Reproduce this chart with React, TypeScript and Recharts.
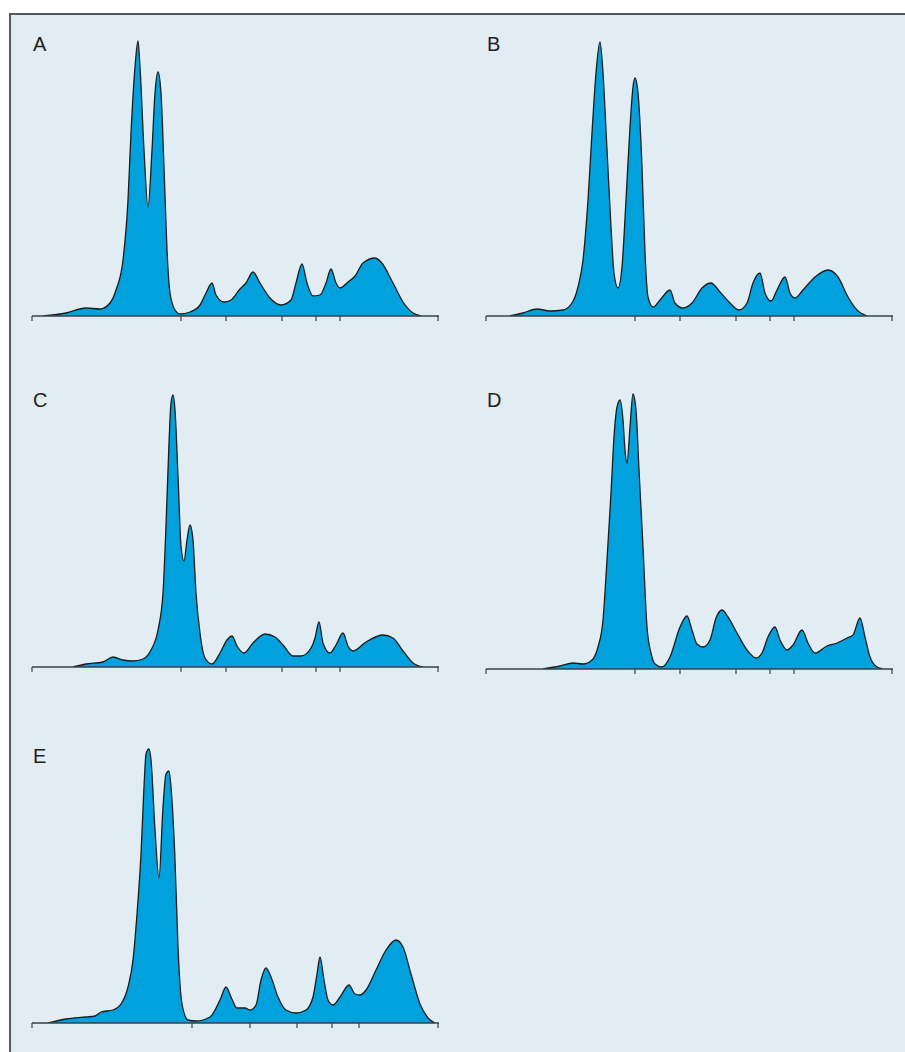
import { AreaChart, Area, XAxis, YAxis } from "recharts";

// traces, x = px along the axis, y = px above the baseline
const A_X = [11, 34, 54, 68, 78, 84, 91, 96, 99, 103, 106, 108, 112, 116, 120, 123, 126, 129, 132, 135, 138, 143, 148, 158, 168, 174, 180, 184, 192, 199, 208, 214, 221, 228, 238, 249, 259, 264, 270, 275, 281, 288, 294, 299, 304, 308, 316, 323, 331, 343, 349, 361, 371, 381, 389];
const A_Y = [0, 3, 8, 7, 13, 26, 56, 116, 183, 249, 275, 249, 166, 109, 166, 223, 244, 223, 149, 66, 23, 6, 2, 4, 11, 23, 33, 21, 14, 16, 27, 33, 44, 33, 18, 11, 16, 33, 52, 33, 20, 21, 33, 47, 33, 28, 34, 40, 53, 58, 54, 33, 14, 3, 0];

const B_X = [24, 37, 51, 64, 77, 86, 92, 97, 102, 106, 110, 114, 117, 121, 125, 128, 132, 136, 140, 144, 147, 149, 152, 156, 159, 162, 167, 174, 184, 189, 197, 206, 216, 225, 234, 244, 253, 261, 267, 274, 279, 285, 291, 299, 304, 309, 317, 329, 342, 352, 362, 371, 381];
const B_Y = [0, 3, 7, 5, 6, 13, 29, 56, 116, 183, 243, 274, 243, 166, 89, 43, 28, 49, 116, 189, 229, 238, 223, 149, 63, 19, 9, 16, 26, 13, 8, 13, 28, 33, 24, 13, 6, 13, 33, 43, 23, 15, 26, 39, 23, 18, 26, 39, 46, 39, 19, 6, 0];

const C_X = [41, 54, 71, 81, 91, 101, 111, 119, 126, 131, 134, 137, 139, 141, 143, 146, 149, 152, 155, 158, 161, 164, 168, 173, 180, 188, 195, 200, 205, 212, 221, 233, 243, 251, 261, 269, 279, 283, 287, 291, 298, 304, 311, 316, 321, 334, 351, 361, 371, 381, 391];
const C_Y = [0, 3, 5, 10, 7, 6, 8, 17, 37, 74, 141, 224, 264, 272, 257, 191, 121, 106, 127, 142, 127, 74, 34, 9, 3, 14, 27, 31, 21, 14, 24, 33, 30, 22, 11, 11, 19, 29, 45, 24, 14, 22, 34, 21, 16, 25, 32, 29, 16, 4, 0];

const D_X = [57, 74, 87, 97, 106, 112, 117, 121, 125, 128, 131, 134, 137, 139, 141, 144, 147, 150, 153, 157, 161, 165, 169, 176, 184, 194, 201, 206, 211, 217, 224, 230, 236, 242, 251, 261, 270, 276, 282, 289, 294, 301, 307, 316, 322, 329, 341, 351, 361, 367, 374, 379, 384, 391, 397];
const D_Y = [0, 3, 6, 5, 9, 22, 49, 109, 176, 232, 262, 269, 249, 219, 206, 242, 275, 259, 199, 122, 42, 16, 5, 2, 12, 42, 53, 39, 25, 22, 29, 51, 59, 52, 36, 19, 11, 16, 32, 42, 29, 19, 24, 39, 26, 16, 23, 26, 31, 34, 51, 32, 12, 2, 0];

const E_X = [16, 34, 54, 63, 69, 81, 89, 96, 101, 105, 109, 112, 114, 117, 119, 123, 127, 131, 134, 137, 139, 143, 146, 150, 156, 164, 178, 188, 194, 199, 205, 213, 218, 224, 229, 234, 239, 246, 254, 264, 274, 281, 285, 288, 292, 296, 301, 308, 317, 323, 328, 334, 344, 354, 364, 371, 379, 388, 396, 403];
const E_Y = [0, 4, 6, 7, 11, 13, 19, 36, 63, 109, 169, 236, 269, 274, 263, 193, 145, 216, 249, 252, 236, 163, 76, 19, 3, 2, 6, 23, 36, 26, 15, 15, 13, 18, 43, 55, 46, 26, 13, 10, 13, 26, 49, 66, 43, 23, 18, 26, 38, 29, 28, 33, 53, 73, 83, 76, 49, 19, 5, 0];

const TICKS = [0, 149, 194, 250, 284, 308, 406];
const E_TICKS = [0, 160, 218, 265, 300, 327, 406];

const W = 407;
const H = 290;
const FILL = "#00a1dc";
const INK = "#1c1c1c";

type PanelProps = {
  label: string;
  xs: number[];
  ys: number[];
  ticks: number[];
  left: number;
  axisY: number;
  labelY: number;
};

function Panel({ label, xs, ys, ticks, left, axisY, labelY }: PanelProps) {
  const data = xs.map((x, i) => ({ x, y: ys[i] }));
  return (
    <>
      <div
        style={{
          position: "absolute",
          left: left + 1,
          top: labelY,
          fontFamily: "'Liberation Sans', Arial, sans-serif",
          fontSize: 20,
          lineHeight: "20px",
          color: "#222",
        }}
      >
        {label}
      </div>
      <div style={{ position: "absolute", left: left - 2, top: axisY - H }}>
        <AreaChart
          width={W + 4}
          height={H + 10}
          data={data}
          margin={{ top: 0, right: 2, bottom: 0, left: 2 }}
        >
          <XAxis
            type="number"
            dataKey="x"
            domain={[0, W]}
            ticks={ticks}
            tickFormatter={() => ""}
            tickSize={5}
            height={10}
            allowDataOverflow
            axisLine={{ stroke: "#3a4046", strokeWidth: 1.5 }}
            tickLine={{ stroke: "#3a4046", strokeWidth: 1.2 }}
          />
          <YAxis hide domain={[0, H]} allowDataOverflow />
          <Area
            type="monotone"
            dataKey="y"
            stroke={INK}
            strokeWidth={1.3}
            fill={FILL}
            fillOpacity={1}
            dot={false}
            activeDot={false}
            isAnimationActive={false}
          />
        </AreaChart>
      </div>
    </>
  );
}

export default function App() {
  return (
    <div
      style={{
        position: "absolute",
        left: 0,
        top: 0,
        width: 905,
        height: 1052,
        background: "#fff",
        overflow: "hidden",
      }}
    >
      <div
        style={{
          position: "absolute",
          left: 9,
          top: 13,
          width: 896,
          height: 1039,
          background: "#e1edf2",
          borderTop: "2px solid #55595c",
          borderLeft: "2px solid #55595c",
        }}
      />
      <Panel label="A" xs={A_X} ys={A_Y} ticks={TICKS} left={32} axisY={316} labelY={34} />
      <Panel label="B" xs={B_X} ys={B_Y} ticks={TICKS} left={486} axisY={316} labelY={34} />
      <Panel label="C" xs={C_X} ys={C_Y} ticks={TICKS} left={32} axisY={667} labelY={390} />
      <Panel label="D" xs={D_X} ys={D_Y} ticks={TICKS} left={486} axisY={669} labelY={390} />
      <Panel label="E" xs={E_X} ys={E_Y} ticks={E_TICKS} left={32} axisY={1023} labelY={746} />
    </div>
  );
}
